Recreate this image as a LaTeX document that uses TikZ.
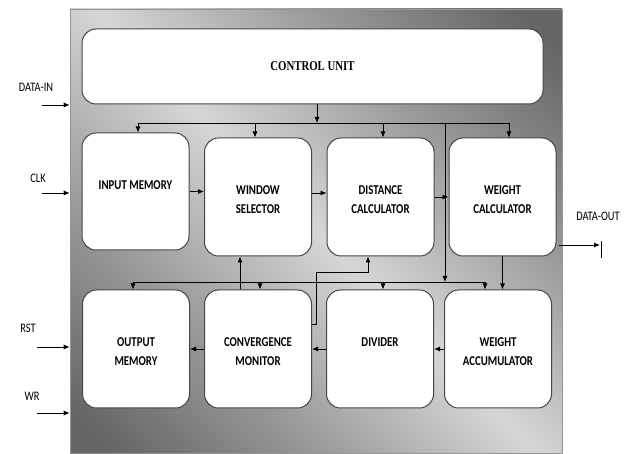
\documentclass[tikz,border=0pt]{standalone}
\usepackage{fontspec}
\usepackage{xcolor}
\usetikzlibrary{positioning,arrows.meta,calc}
\newfontfamily\blkfont[FakeStretch=0.8]{Carlito}
\newfontfamily\ctlfont[FakeStretch=0.8]{Liberation Serif}
\definecolor{framedark}{RGB}{102,102,102}
\definecolor{framemid}{RGB}{155,155,155}
\definecolor{framelight}{RGB}{214,214,214}
\definecolor{frameedge}{RGB}{150,150,150}
\definecolor{blkline}{RGB}{70,70,70}
\pgfdeclareverticalshading{framefade}{100bp}{color(0bp)=(framedark); color(18bp)=(framedark);
  color(34bp)=(framemid); color(50bp)=(framelight); color(66bp)=(framemid);
  color(82bp)=(framedark); color(100bp)=(framedark)}

\tikzset{
  blk/.style={draw=blkline, line width=1pt, fill=white, rounded corners=14pt,
    minimum width=107pt, minimum height=118pt, inner sep=0pt},
  blktext/.style={font=\blkfont\bfseries\fontsize{13.5}{18.5}\selectfont, align=center, inner sep=0pt},
  pinlabel/.style={font=\blkfont\fontsize{13}{15}\selectfont, inner sep=0pt},
  wire/.style={line width=0.8pt, black},
  >={Latex[length=6pt,width=5pt]}
}

\begin{document}
\begin{tikzpicture}[x=1pt,y=-1pt]
    \useasboundingbox (0,0) rectangle (630,454);

    % Shaded frame
    \node[minimum width=492pt, minimum height=444pt, inner sep=0pt, draw=frameedge, line width=0.6pt,
      shading=framefade, shading angle=-45] (frame) at (316,231) {};

    % Control unit
    \node[blk, minimum width=461pt, minimum height=75pt,
      font=\ctlfont\bfseries\fontsize{13.5}{16}\selectfont] (ctrl) at (312.5,66.5) {CONTROL UNIT};

    % Top row
    \node[blk, minimum height=117pt] (inmem) at (135.5,191.5) {};
    \node[blk] (winsel) at (258,197) {};
    \node[blk] (distcalc) at (380.5,197) {};
    \node[blk] (wcalc) at (502.5,197) {};
    \node[blktext, below=48pt of inmem.north] {INPUT MEMORY};
    \node[blktext, below=48pt of winsel.north] {WINDOW\\SELECTOR};
    \node[blktext, below=48pt of distcalc.north] {DISTANCE\\CALCULATOR};
    \node[blktext, below=48pt of wcalc.north] {WEIGHT\\CALCULATOR};

    % Bottom row
    \node[blk] (outmem) at (136,349) {};
    \node[blk] (convmon) at (258,349) {};
    \node[blk] (divider) at (380,349) {};
    \node[blk] (wacc) at (498,349) {};
    \node[blktext, below=48pt of outmem.north] {OUTPUT\\MEMORY};
    \node[blktext, below=48pt of convmon.north] {CONVERGENCE\\MONITOR};
    \node[blktext, below=48pt of divider.north] {DIVIDER};
    \node[blktext, below=48pt of wacc.north] {WEIGHT\\ACCUMULATOR};

    % Control bus
    \coordinate (cbus) at (317,123);
    \coordinate (tbL) at (138,123);
    \coordinate (tbR) at (509,123);
    \draw[wire,->] (ctrl.south -| cbus) -- (cbus);
    \draw[wire] (tbL) -- (tbR);
    \draw[wire,->] (tbL) -- (tbL |- inmem.north);
    \draw[wire,->] (255,123) -- (255,123 |- winsel.north);
    \draw[wire,->] (383,123) -- (383,123 |- distcalc.north);
    \draw[wire,->] (tbR) -- (tbR |- wcalc.north);

    % Lower bus
    \coordinate (bbL) at (133,282);
    \coordinate (bbR) at (485,282);
    \draw[wire] (bbL) -- (bbR);
    \draw[wire,->] (445,123) -- (445,282);
    \draw[wire,->] (bbL) -- (bbL |- outmem.north);
    \draw[wire,->] (260,282) -- (260,282 |- convmon.north);
    \draw[wire,->] (383,282) -- (383,282 |- divider.north);
    \draw[wire,->] (bbR) -- (bbR |- wacc.north);

    % Data path
    \draw[wire,->] (inmem.east) -- (inmem.east -| winsel.west);
    \draw[wire,->] ([yshift=4pt]winsel.east) -- ([yshift=4pt]distcalc.west);
    \draw[wire,->] (distcalc.east) -- (wcalc.west);
    \draw[wire,->] (wcalc.south) -- (wcalc.south |- wacc.north);
    \draw[wire,->] (wacc.west) -- (divider.east);
    \draw[wire,->] (divider.west) -- (convmon.east);
    \draw[wire,->] (convmon.west) -- (outmem.east);
    \draw[wire,->] ([xshift=-18pt]convmon.north) -- ([xshift=-18pt]winsel.south);
    \draw[wire,->] ([yshift=25pt]convmon.east) -| (316,272) -| ([xshift=-12.5pt]distcalc.south);

    % Inputs
    \node[pinlabel] (datainlbl) at (36,87) {DATA-IN};
    \node[pinlabel] (clklbl) at (38,178) {CLK};
    \node[pinlabel] (rstlbl) at (28,328) {RST};
    \node[pinlabel] (wrlbl) at (32,396) {WR};
    \coordinate (din) at (42,105);
    \coordinate (clk) at (42,193);
    \coordinate (rst) at (37,347);
    \coordinate (wr) at (37,413);
    \foreach \p in {din,clk,rst,wr}
      \draw[wire,->] (\p) -- (\p -| frame.west);

    % Output
    \node[pinlabel] (doutlbl) at (598,216) {DATA-OUT};
    \coordinate (dout) at (600,245);
    \draw[wire,->] ([xshift=-3pt]frame.east |- dout) -- (dout);
    \draw[wire] ([xshift=1pt,yshift=4pt]dout) -- ([xshift=1pt,yshift=-13pt]dout);
\end{tikzpicture}
\end{document}
